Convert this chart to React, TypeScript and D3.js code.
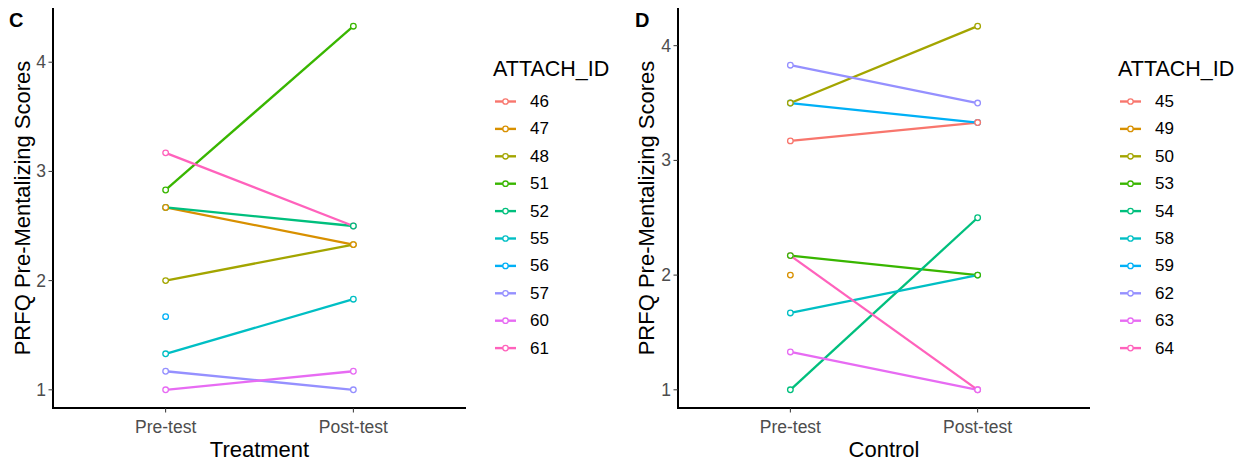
import React from "react";
import * as d3 from "d3";

const timeLabels = ["Pre-test", "Post-test"];

const treatmentIds = ["46", "47", "48", "51", "52", "55", "56", "57", "60", "61"];
const treatmentPre: (number | null)[] = [null, 2.67, 2.0, 2.83, 2.67, 1.33, 1.67, 1.17, 1.0, 3.17];
const treatmentPost: (number | null)[] = [null, 2.33, 2.33, 4.33, 2.5, 1.83, null, 1.0, 1.17, 2.5];

const controlIds = ["45", "49", "50", "53", "54", "58", "59", "62", "63", "64"];
const controlPre: (number | null)[] = [3.17, 2.0, 3.5, 2.17, 1.0, 1.67, 3.5, 3.83, 1.33, 2.17];
const controlPost: (number | null)[] = [3.33, null, 4.17, 2.0, 2.5, 2.0, 3.33, 3.5, 1.0, 1.0];

const yTicks = [1, 2, 3, 4];

const palette = ["#F8766D", "#D89000", "#A3A500", "#39B600", "#00BF7D", "#00BFC4", "#00B0F6", "#9590FF", "#E76BF3", "#FF62BC"];

const FONT = "'Liberation Sans', Arial, sans-serif";

type PanelProps = {
  letter: string;
  xTitle: string;
  ids: string[];
  pre: (number | null)[];
  post: (number | null)[];
  left: number;
  right: number;
  letterX: number;
  yTitleX: number;
  legendX: number;
};

function Panel({ letter, xTitle, ids, pre, post, left, right, letterX, yTitleX, legendX }: PanelProps) {
  const top = 8;
  const bottom = 408;
  const all = [...pre, ...post].filter((v) => v != null) as number[];
  const mn = d3.min(all)!;
  const mx = d3.max(all)!;
  const pad = (mx - mn) * 0.05;
  const y = d3.scaleLinear().domain([mn - pad, mx + pad]).range([bottom, top]);
  const x = d3.scalePoint<string>().domain(timeLabels).range([left, right]).padding(0.6);
  const color = d3.scaleOrdinal<string, string>().domain(ids).range(palette);
  const line = d3
    .line<[string, number | null]>()
    .defined((d) => d[1] != null)
    .x((d) => x(d[0])!)
    .y((d) => y(d[1] as number));

  const series = ids.map((id, i) => ({
    id,
    pts: [
      [timeLabels[0], pre[i]],
      [timeLabels[1], post[i]],
    ] as [string, number | null][],
  }));

  const legendTop = 101.5;
  const legendStep = 27.4;

  return (
    <g>
      <text x={letterX} y={27} fontFamily={FONT} fontWeight="bold" fontSize={20} fill="#000">
        {letter}
      </text>
      {series.map((s) => {
        const valid = s.pts.filter((p) => p[1] != null);
        if (valid.length < 2) return null;
        return (
          <path key={"l" + s.id} d={line(s.pts) || ""} fill="none" stroke={color(s.id)} strokeWidth={2.3} />
        );
      })}
      {series
        .slice()
        .reverse()
        .map((s) =>
          s.pts
            .filter((p) => p[1] != null)
            .map((p, j) => (
              <circle
                key={"p" + s.id + j}
                cx={x(p[0])}
                cy={y(p[1] as number)}
                r={2.8}
                fill="#fff"
                stroke={color(s.id)}
                strokeWidth={1.3}
              />
            ))
        )}
      <line x1={left} x2={left} y1={top} y2={bottom} stroke="#000" strokeWidth={2} />
      <line x1={left - 1} x2={right} y1={bottom} y2={bottom} stroke="#000" strokeWidth={2} />
      {yTicks.map((t) => (
        <g key={"yt" + t}>
          <line x1={left - 4.5} x2={left} y1={y(t)} y2={y(t)} stroke="#333" strokeWidth={1} />
          <text
            x={left - 7}
            y={y(t)}
            textAnchor="end"
            dominantBaseline="central"
            fontFamily={FONT}
            fontSize={17.5}
            fill="#4D4D4D"
          >
            {t}
          </text>
        </g>
      ))}
      {timeLabels.map((t) => (
        <g key={"xt" + t}>
          <line x1={x(t)} x2={x(t)} y1={bottom} y2={bottom + 4.5} stroke="#333" strokeWidth={1} />
          <text x={x(t)} y={432.5} textAnchor="middle" fontFamily={FONT} fontSize={17.5} fill="#4D4D4D">
            {t}
          </text>
        </g>
      ))}
      <text x={(left + right) / 2} y={457} textAnchor="middle" fontFamily={FONT} fontSize={22} fill="#000">
        {xTitle}
      </text>
      <text
        transform={`translate(${yTitleX},${(top + bottom) / 2}) rotate(-90)`}
        textAnchor="middle"
        fontFamily={FONT}
        fontSize={22}
        fill="#000"
      >
        PRFQ Pre-Mentalizing Scores
      </text>
      <text x={legendX - 2} y={76} fontFamily={FONT} fontSize={21.5} fill="#000">
        ATTACH_ID
      </text>
      {ids.map((id, i) => {
        const cy = legendTop + i * legendStep;
        return (
          <g key={"lg" + id}>
            <line x1={legendX} x2={legendX + 21} y1={cy} y2={cy} stroke={color(id)} strokeWidth={2.4} />
            <circle cx={legendX + 10.5} cy={cy} r={2.7} fill="#fff" stroke={color(id)} strokeWidth={1.3} />
            <text x={legendX + 35} y={cy} dominantBaseline="central" fontFamily={FONT} fontSize={17} fill="#000">
              {id}
            </text>
          </g>
        );
      })}
    </g>
  );
}

export default function App() {
  return (
    <svg width={1255} height={466} style={{ position: "absolute", left: 0, top: 0, background: "#fff" }}>
      <rect x={0} y={0} width={1255} height={466} fill="#fff" />
      <Panel
        letter="C"
        xTitle="Treatment"
        ids={treatmentIds}
        pre={treatmentPre}
        post={treatmentPost}
        left={53}
        right={466}
        letterX={9}
        yTitleX={30}
        legendX={495}
      />
      <Panel
        letter="D"
        xTitle="Control"
        ids={controlIds}
        pre={controlPre}
        post={controlPost}
        left={678}
        right={1090}
        letterX={635}
        yTitleX={654}
        legendX={1120}
      />
    </svg>
  );
}
